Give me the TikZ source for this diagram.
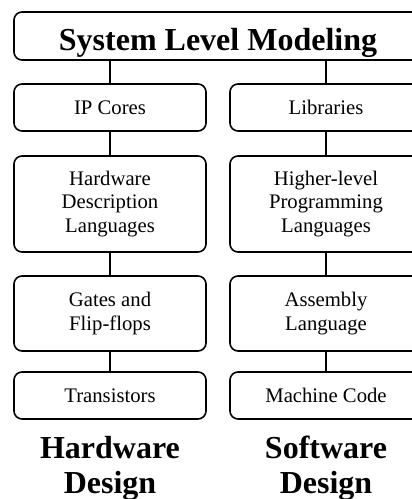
\documentclass[tikz,border=0pt]{standalone}
\usepackage{fontspec}
\setmainfont{Liberation Serif}
\begin{document}
\begin{tikzpicture}[x=1pt,y=-1pt,
  box/.style={draw,line width=1.6pt,rounded corners=8pt,minimum width=192pt,inner sep=0pt,align=center,
    font=\fontsize{20.7}{23.3}\selectfont},
  conn/.style={line width=1.6pt},
  big/.style={font=\fontsize{32}{35}\selectfont\bfseries,align=center,inner sep=0pt}]
\useasboundingbox (0,0) rectangle (412,499);
\node[box,minimum width=408pt,minimum height=48pt,text height=28pt,text depth=0pt,
  font=\fontsize{32}{35}\selectfont\bfseries] (top) at (218,36) {System Level Modeling};
% left column
\node[box,minimum height=47pt] (ip) at (110,107.5) {IP Cores};
\node[box,minimum height=96pt] (hdl) at (110,204) {Hardware\\Description\\Languages};
\node[box,minimum height=75pt] (gates) at (110,313.5) {Gates and\\Flip-flops};
\node[box,minimum height=47pt] (tr) at (110,395.5) {Transistors};
% right column
\node[box,minimum height=47pt] (lib) at (326,107.5) {Libraries};
\node[box,minimum height=96pt] (hll) at (326,204) {Higher-level\\Programming\\Languages};
\node[box,minimum height=75pt] (asm) at (326,313.5) {Assembly\\Language};
\node[box,minimum height=47pt] (mc) at (326,395.5) {Machine Code};
% connectors
\draw[conn] (ip.north) -- (ip.north |- top.south);
\draw[conn] (lib.north) -- (lib.north |- top.south);
\draw[conn] (ip) -- (hdl);
\draw[conn] (hdl) -- (gates);
\draw[conn] (gates) -- (tr);
\draw[conn] (lib) -- (hll);
\draw[conn] (hll) -- (asm);
\draw[conn] (asm) -- (mc);
% bottom labels
\node[big,anchor=base] (hw) at (110,493) {Hardware\\Design};
\node[big,anchor=base] (sw) at (326,493) {Software\\Design};
\end{tikzpicture}
\end{document}
